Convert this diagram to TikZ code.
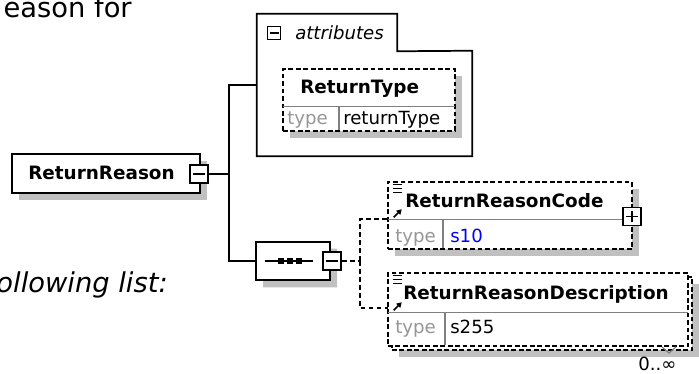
\documentclass[tikz,border=0pt]{standalone}
\usepackage{fontspec}
\setmainfont{DejaVu Sans}
\usetikzlibrary{positioning,fit,shapes.misc,shadows,arrows.meta}

\definecolor{shadegray}{RGB}{192,192,192}
\definecolor{typegray}{RGB}{150,150,150}
\definecolor{sepgray}{RGB}{128,128,128}
\definecolor{valblue}{RGB}{0,0,255}

\tikzset{
  elem/.style={draw, line width=1.3pt, fill=white, inner sep=0pt},
  dashedbox/.style={dash pattern=on 3.6pt off 2pt},
  dropshade/.style={drop shadow={shadow xshift=5.25pt, shadow yshift=-5.25pt, fill=shadegray, opacity=1}},
  rowbox/.style={inner sep=0pt},
  elname/.style={font=\fontsize{13.8}{16}\selectfont\bfseries, inner sep=0pt, anchor=base west},
  lbl/.style={font=\fontsize{13.6}{16}\selectfont, inner sep=0pt, anchor=base west},
  prose/.style={font=\fontsize{20.5}{24}\selectfont, inner sep=0pt},
  btn/.style={draw, line width=1.3pt, fill=white, minimum size=13.5pt, inner sep=0pt},
  wire/.style={line width=1.3pt},
  dwire/.style={wire, dash pattern=on 3.6pt off 2.4pt},
  rowsep/.style={sepgray, line width=1pt},
}

% list icon and reference arrow of an element box
\newcommand{\refmarks}[1]{%
  \foreach \dy in {3,7,11}
    \draw[line width=0.8pt] ([shift={(5,\dy)}]#1.north west) -- ++(9,0);
  \draw[line width=1.3pt, -{Triangle[length=3.8pt,width=4.2pt]}]
    ([shift={(6,-2)}]#1.south west) -- ++(8,-8);
}

\begin{document}
\begin{tikzpicture}[x=0.75pt,y=-0.75pt]
  \useasboundingbox (0,0) rectangle (699,374);

  % text around the picture
  \node[prose, anchor=base east] (before) at (132,18) {eason for};
  \node[prose, font=\fontsize{20.5}{24}\selectfont\itshape, anchor=base east] (after) at (168,292) {ollowing list:};

  % root element
  \node[elem, dropshade, fit={(12,154) (200,193)}] (root) {};
  \node[elname] (rootname) at (28,180) {ReturnReason};
  \node[btn] (rootbtn) at (199,174) {};
  \draw[wire] ([xshift=3pt]rootbtn.west) -- ([xshift=-3pt]rootbtn.east);

  % attributes group
  \node[rowbox, fit={(257,51) (472,156)}] (attrbody) {};
  \node[rowbox, fit={(257,14) (397,51)}] (attrtab) {};
  \draw[wire] (attrbody.south west) -- (attrtab.north west) -- (attrtab.north east)
    -- (attrtab.south east) -- (attrbody.north east) -- (attrbody.south east) -- cycle;
  \node[btn, minimum size=9.75pt, line width=1pt] (attrbtn) at (274,33) {};
  \draw[line width=1pt] ([xshift=2pt]attrbtn.west) -- ([xshift=-2pt]attrbtn.east);
  \node[lbl, font=\fontsize{13.6}{16}\selectfont\itshape] (attrlbl) at (295,40) {attributes};

  % attribute ReturnType
  \node[elem, dashedbox, dropshade, fit={(283,69) (455,131)}] (rt) {};
  \node[rowbox, fit={(283,69) (455,106)}] (rtname) {};
  \draw[rowsep] (rtname.south west) -- (rtname.south east);
  \draw[rowsep] (339,106) -- (339,130);
  \node[elname] at (300,94) {ReturnType};
  \node[lbl, typegray] at (287,125) {type};
  \node[lbl] at (343,125) {returnType};

  % sequence
  \node[chamfered rectangle, chamfered rectangle xsep=7.5pt, draw, line width=1.3pt,
    fill=white, dropshade, inner sep=0pt, minimum width=55.5pt, minimum height=29pt] (seq) at (293,261) {};
  \coordinate (seqmid) at (290,261);
  \draw[wire] ([xshift=-19pt]seqmid) -- ([xshift=17pt]seqmid);
  \foreach \dx in {-9,0,9}
    \fill ([xshift=\dx*0.75pt]seqmid) +(-2.6,-2.6) rectangle +(2.6,2.6);
  \node[btn] (seqbtn) at (332,261) {};
  \draw[wire] ([xshift=3pt]seqbtn.west) -- ([xshift=-3pt]seqbtn.east);

  % connectors from the root
  \draw[wire] (rootbtn.east) -- ++(20,0) coordinate (trunk);
  \draw[wire] (trunk) |- ([yshift=-25.5pt]attrbody.north west);
  \draw[wire] (trunk) |- (seq.west);

  % element ReturnReasonCode
  \node[elem, dashedbox, dropshade, fit={(388,182) (632,249)}] (rrc) {};
  \node[rowbox, fit={(388,182) (632,219)}] (rrcname) {};
  \draw[rowsep] (rrcname.south west) -- (rrcname.south east);
  \draw[rowsep] (443,219) -- (443,248);
  \node[elname] at (405,207) {ReturnReasonCode};
  \node[lbl, typegray] at (395,242) {type};
  \node[lbl, valblue] at (450,242) {s10};
  \refmarks{rrcname}
  \node[btn] (rrcbtn) at ([yshift=2pt]rrcname.south east) {};
  \draw[wire] ([xshift=3pt]rrcbtn.west) -- ([xshift=-3pt]rrcbtn.east);
  \draw[wire] ([yshift=3pt]rrcbtn.south) -- ([yshift=-3pt]rrcbtn.north);

  % element ReturnReasonDescription, repeated
  \node[elem, dashedbox, dropshade, fit={(392,277) (692,350)}] (rrdback) {};
  \node[elem, dashedbox, fit={(388,273) (688,346)}] (rrd) {};
  \node[rowbox, fit={(388,273) (688,312)}] (rrdname) {};
  \draw[rowsep] (rrdname.south west) -- (rrdname.south east);
  \draw[rowsep] (445,312) -- (445,345);
  \node[elname] at (403,299) {ReturnReasonDescription};
  \node[lbl, typegray] at (395,333) {type};
  \node[lbl] at (450,333) {s255};
  \refmarks{rrdname}
  \draw[sepgray, line width=0.9pt] (662,347) -- (669,353) -- (676,347);
  \node[lbl] (rrdocc) at (638,370) {0..∞};

  % connectors from the sequence
  \draw[dwire] (seqbtn.east) -- ++(18,0) coordinate (branch);
  \draw[dwire] (branch) |- (rrcname.south west);
  \draw[dwire] (branch) |- ([yshift=3pt]rrdname.south west);
\end{tikzpicture}
\end{document}
